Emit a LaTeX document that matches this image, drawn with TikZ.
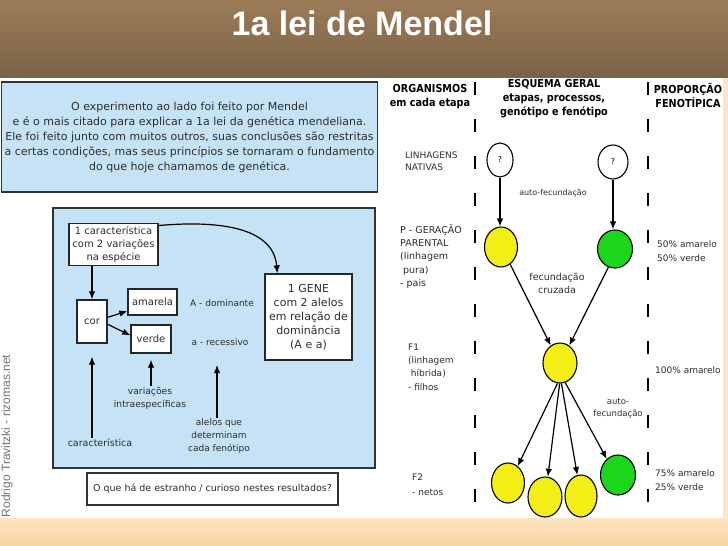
\documentclass[tikz,border=0pt]{standalone}
\usepackage{fontspec}
\setmainfont{DejaVu Sans}
\newfontfamily\headfont{DejaVu Sans}[FakeStretch=0.88]
\newfontfamily\titlefont{Liberation Sans}
\usetikzlibrary{positioning,calc,arrows.meta,shapes.geometric}
\definecolor{bluebox}{RGB}{198,226,246}
\definecolor{brownT}{RGB}{156,124,88}
\definecolor{brownB}{RGB}{122,98,71}
\definecolor{peachT}{RGB}{252,229,192}
\definecolor{peachB}{RGB}{246,211,162}
\definecolor{pea}{RGB}{242,238,22}
\definecolor{peagreen}{RGB}{28,214,28}
\definecolor{txt}{RGB}{45,45,45}
\tikzset{>={Latex[length=8pt,width=6.5pt]}}
\tikzset{lbox/.style={draw=black!85,line width=1.3pt,fill=white,align=center,inner sep=3pt,text=txt,font=\fontsize{10}{13.3}\selectfont}}
\tikzset{lbl/.style={align=center,inner sep=1pt,text=txt,font=\fontsize{9}{13}\selectfont}}
\tikzset{head/.style={align=center,inner sep=0pt,font=\headfont\bfseries\fontsize{11}{14}\selectfont}}
\tikzset{stage/.style={anchor=west,align=left,inner sep=0pt,text=txt,font=\fontsize{9}{13.3}\selectfont}}
\tikzset{seed/.style={draw,ellipse,line width=1.1pt,minimum width=33pt,minimum height=40pt,inner sep=0pt}}
\tikzset{sep/.style={line width=1.5pt,dash pattern=on 13pt off 24pt}}
\tikzset{con/.style={->,line width=1.2pt}}

\begin{document}
\begin{tikzpicture}[x=1pt,y=-1pt]
\useasboundingbox (0,0) rectangle (728,546);
\shade[top color=brownT,bottom color=brownB] (0,0) rectangle (728,78);
\fill[white] (0,78) rectangle (723,518);
\fill[peachT] (723,78) rectangle (728,518);
\shade[top color=peachT,bottom color=peachB] (0,518) rectangle (728,546);
\node[text=white,font=\titlefont\bfseries\fontsize{34}{34}\selectfont] (title) at (362,23) {1a lei de Mendel};

\node[draw=black!80,line width=1.5pt,fill=bluebox,minimum width=375pt,minimum height=110pt,align=center,text=txt,font=\fontsize{11}{15}\selectfont] (intro) at (189.5,137)
  {O experimento ao lado foi feito por Mendel\\e é o mais citado para explicar a 1a lei da genética mendeliana.\\Ele foi feito junto com muitos outros, suas conclusões são restritas\\a certas condições, mas seus princípios se tornaram o fundamento\\do que hoje chamamos de genética.};

% left scheme
\node[draw=black!80,line width=1.5pt,fill=bluebox,minimum width=322pt,minimum height=260pt] (panel) at (214,338) {};
\node[lbox,minimum width=89pt] (trait) at (113.5,244.5) {1 característica\\com 2 variações\\na espécie};
\node[lbox,minimum width=30pt,minimum height=43pt] (cor) at (92,321.5) {cor};
\node[lbox,minimum width=49pt,minimum height=26pt] (amarela) at (152.5,302) {amarela};
\node[lbox,minimum width=40pt,minimum height=28pt] (verde) at (151,339) {verde};
\node[lbox,minimum width=87pt,minimum height=86pt,font=\fontsize{11}{14}\selectfont] (gene) at (308.5,317) {1 GENE\\com 2 alelos\\em relação de\\dominância\\(A e a)};
\node[lbl] (dom) at (222,303) {A - dominante};
\node[lbl] (rec) at (220,342) {a - recessivo};
\node[lbl,font=\fontsize{9.2}{13}\selectfont] (varlab) at (150,398.5) {variações\\intraespecíficas};
\node[lbl] (alelab) at (219,436.5) {alelos que\\determinam\\cada fenótipo};
\node[lbl,font=\fontsize{9.5}{13}\selectfont] (carlab) at (100,443) {característica};
\coordinate (aletip) at (217,365);

\draw[con] (trait.south -| cor) -- (cor.north);
\draw[con] (cor.15) -- (amarela.200);
\draw[con] (cor.-10) -- (verde.170);
\draw[con] ([yshift=-3pt]trait.north east) to[out=5,in=95] ([xshift=13pt]gene.north west);
\draw[con] (carlab.north -| cor) -- ([yshift=-13pt]cor.south);
\draw[con] (varlab.north -| verde) -- ([yshift=-6pt]verde.south);
\draw[con] (alelab.north -| aletip) -- (aletip);

\node[draw=black!80,line width=1.3pt,fill=white,minimum width=251pt,minimum height=32pt,text=txt,font=\fontsize{9.5}{12}\selectfont] (quest) at (212.5,489) {O que há de estranho / curioso nestes resultados?};
\node[rotate=90,text=black!55,font=\titlefont\fontsize{12}{12}\selectfont] (credit) at (7,436) {Rodrigo Travitzki - rizomas.net};

% right scheme
\draw[sep] (475,82) -- (475,508);
\draw[sep] (648,82) -- (648,508);
\node[head] (hOrg) at (430,96.5) {ORGANISMOS\\em cada etapa};
\node[head] (hEsq) at (554,99) {ESQUEMA GERAL\\etapas, processos,\\genótipo e fenótipo};
\node[head] (hProp) at (688,95) {PROPORÇÃO\\FENOTÍPICA};

\node[stage,font=\fontsize{9}{12.5}\selectfont] (sNat) at (405,161) {LINHAGENS\\NATIVAS};
\node[stage,font=\fontsize{9.5}{13.3}\selectfont] (sP) at (400,256.5) {P - GERAÇÃO\\PARENTAL\\(linhagem\\\hspace*{0.3em}pura)\\- pais};
\node[stage] (sF1) at (408,367) {F1\\(linhagem\\\hspace*{0.3em}híbrida)\\- filhos};
\node[stage,font=\fontsize{9}{15}\selectfont] (sF2) at (412,484.5) {F2\\- netos};
\node[stage,font=\fontsize{9}{14}\selectfont] (r50) at (657,251) {50\% amarelo\\50\% verde};
\node[stage] (r100) at (655,370) {100\% amarelo};
\node[stage,font=\fontsize{9}{14}\selectfont] (r75) at (655,480) {75\% amarelo\\25\% verde};

\node[seed,fill=white,minimum width=26pt,minimum height=34pt,font=\fontsize{8}{8}\selectfont] (nat1) at (500,160) {?};
\node[seed,fill=white,minimum width=30pt,minimum height=34pt,font=\fontsize{8}{8}\selectfont] (nat2) at (613,162) {?};
\node[seed,fill=pea] (p1) at (501,247) {};
\node[seed,fill=peagreen,minimum width=35pt,minimum height=38pt] (p2) at (615,249) {};
\node[seed,fill=pea,minimum width=34pt] (f1) at (560,363) {};
\node[seed,fill=pea] (f2a) at (508,483) {};
\node[seed,fill=pea,minimum width=34pt] (f2b) at (545,497) {};
\node[seed,fill=pea,minimum width=32pt,minimum height=42pt] (f2c) at (581,496) {};
\node[seed,fill=peagreen,minimum width=35pt] (f2d) at (618,475) {};

\node[stage,anchor=center,font=\fontsize{8}{11}\selectfont] (selfP) at (553,193) {auto-fecundação};
\node[stage,anchor=center,align=center,font=\fontsize{9.5}{13}\selectfont] (cross) at (557,283.5) {fecundação\\cruzada};
\node[stage,anchor=center,align=center,font=\fontsize{8.5}{12}\selectfont] (selfF) at (618,408) {auto-\\fecundação};

\draw[con] (nat1.south) -- (nat1.south |- p1.north);
\draw[con] (nat2.south) -- (nat2.south |- p2.north);
\draw[con] (p1.-62) -- (f1.118);
\draw[con] (p2.-110) -- (f1.62);
\draw[con] (f1.-97) -- (f2a.60);
\draw[con] (f1.-91) -- (f2b.82);
\draw[con] (f1.-86) -- (f2c.100);
\draw[con] (f1.-75) -- (f2d.125);
\end{tikzpicture}
\end{document}
